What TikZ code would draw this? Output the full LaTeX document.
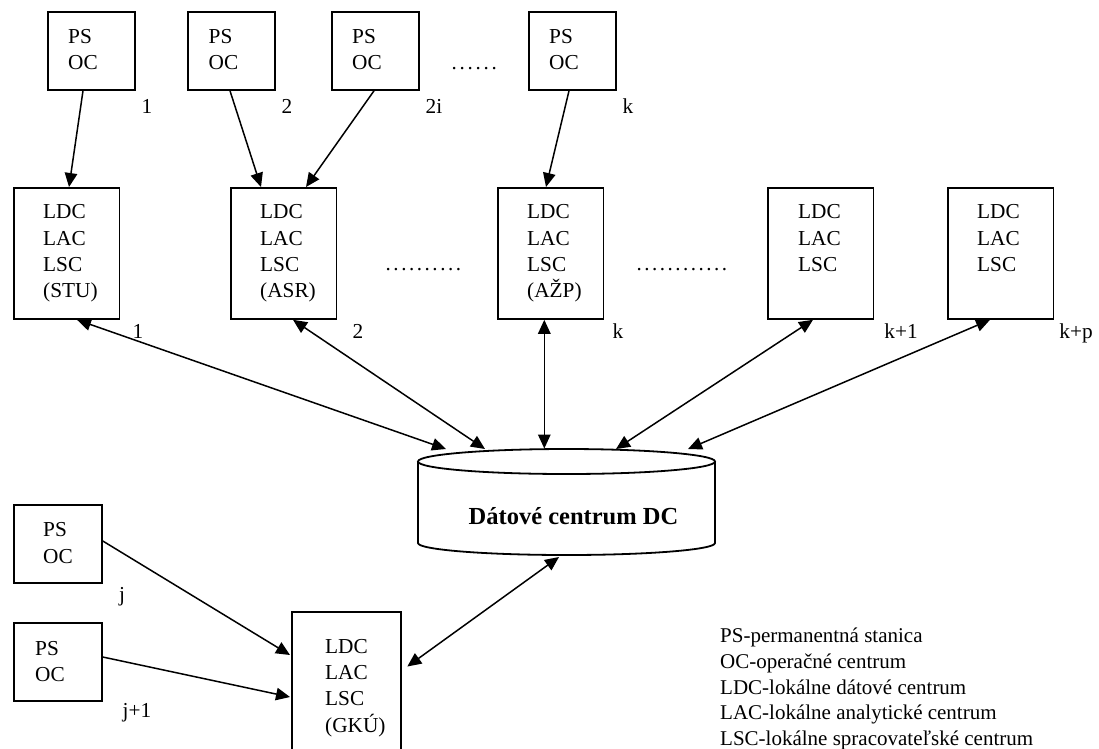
\documentclass[tikz,border=0pt]{standalone}
\usepackage{fontspec}
\setmainfont{Liberation Serif}
\usetikzlibrary{arrows.meta,calc}
\newcommand\dotrow[2]{\foreach\i in {1,...,#1}{.\kern#2pt}}
\begin{document}
\begin{tikzpicture}[x=1pt,y=-1pt,
  box/.style={draw, line width=1.8pt, inner sep=0pt, anchor=north west},
  psbox/.style={box, minimum width=87pt, minimum height=78pt},
  ldcbox/.style={box, minimum width=105.5pt, minimum height=131pt},
  txt/.style={inner sep=0pt, anchor=north west, align=left, font=\fontsize{21.3}{26.3}\selectfont},
  lbl/.style={inner sep=0pt, anchor=base, font=\fontsize{21.3}{26.3}\selectfont},
  dotsnode/.style={inner sep=0pt, anchor=base west, font=\fontsize{21}{26.3}\selectfont},
  arr/.style={line width=1.5pt, -{Triangle[length=14pt,width=12.5pt]}},
  barr/.style={line width=1.5pt, {Triangle[length=14pt,width=12.5pt]}-{Triangle[length=14pt,width=12.5pt]}},
]
\useasboundingbox (0,0) rectangle (1099,748);
\clip (0,0) rectangle (1099,748);

% top PS boxes
\node[psbox] (ps1) at (47,11) {};
\node[psbox] (ps2) at (187,11) {};
\node[psbox] (ps3) at (331,11) {};
\node[psbox] (psk) at (528,11) {};
\node[txt] (ps1t) at (68,28.8) {PS\\OC};
\node[txt] (ps2t) at (208.5,28.8) {PS\\OC};
\node[txt] (ps3t) at (352,28.8) {PS\\OC};
\node[txt] (pskt) at (549,28.8) {PS\\OC};
\node[dotsnode] (dtop) at (451.5,69) {\dotrow{6}{2.75}};
\node[lbl] (l1) at (147,113) {1};
\node[lbl] (l2) at (287,113) {2};
\node[lbl] (l2i) at (434,113) {2i};
\node[lbl] (lk) at (628,113) {k};

% LDC boxes
\node[ldcbox] (ldc1) at (13,187) {};
\node[ldcbox] (ldc2) at (230,187) {};
\node[ldcbox] (ldck) at (497,187) {};
\node[ldcbox] (ldck1) at (767,187) {};
\node[ldcbox] (ldckp) at (947,187) {};
\node[txt] (ldc1t) at (43,204.5) {LDC\\LAC\\LSC\\(STU)};
\node[txt] (ldc2t) at (260,204.5) {LDC\\LAC\\LSC\\(ASR)};
\node[txt] (ldckt) at (527,204.5) {LDC\\LAC\\LSC\\(AŽP)};
\node[txt] (ldck1t) at (798,204.5) {LDC\\LAC\\LSC};
\node[txt] (ldckpt) at (977,204.5) {LDC\\LAC\\LSC};
\node[dotsnode] (dmid1) at (385.5,270.5) {\dotrow{10}{2.55}};
\node[dotsnode] (dmid2) at (636.5,270.5) {\dotrow{12}{2.5}};
\node[lbl] (m1) at (138,338) {1};
\node[lbl] (m2) at (358,338) {2};
\node[lbl] (mk) at (618,338) {k};
\node[lbl] (mk1) at (901,338) {k+1};
\node[lbl] (mkp) at (1076,338) {k+p};

% cylinder
\draw[line width=1.8pt] (566.5,461.5) ellipse [x radius=148.5pt, y radius=12.5pt];
\draw[line width=1.8pt] (418,461.5) -- (418,543) arc[start angle=180, end angle=360, x radius=148.5pt, y radius=12pt] -- (715,461.5);
\node[inner sep=0pt, anchor=base, font=\fontsize{24.5}{29}\selectfont\bfseries] (dc) at (573.5,524) {Dátové centrum DC};
\coordinate (c1) at (446,449);
\coordinate (c2) at (485,449);
\coordinate (ck) at (544.3,448.5);
\coordinate (ck1) at (616,449);
\coordinate (ckp) at (688,449);
\coordinate (cb) at (559,557);

% lower left
\node[box, minimum width=88pt, minimum height=78pt] (psj) at (13,504) {};
\node[box, minimum width=88pt, minimum height=78pt] (psj1) at (13,622) {};
\node[txt] (psjt) at (43,522.5) {PS\\OC};
\node[txt] (psj1t) at (35,640.8) {PS\\OC};
\node[lbl] (lj) at (122,601) {j};
\node[lbl] (lj1) at (137,717) {j+1};
\node[box, minimum width=109pt, minimum height=160pt] (gku) at (291,611) {};
\node[txt] (gkut) at (325,638.8) {LDC\\LAC\\LSC\\(GKÚ)};

% legend
\node[txt, font=\fontsize{21}{25.75}\selectfont] (leg) at (720,627.8) {PS-permanentná stanica\\OC-operačné centrum\\LDC-lokálne dátové centrum\\LAC-lokálne analytické centrum\\LSC-lokálne spracovateľské centrum};

% connectors top
\draw[arr] ($(ps1.south west)+(36,0)$) -- ($(ldc1.north west)+(56,0)$);
\draw[arr] ($(ps2.south west)+(43,0)$) -- ($(ldc2.north west)+(31,0)$);
\draw[arr] ($(ps3.south west)+(43,0)$) -- ($(ldc2.north west)+(76,0)$);
\draw[arr] ($(psk.south west)+(41,0)$) -- ($(ldck.north west)+(49,0)$);

% connectors to DC
\draw[barr] ($(ldc1.south west)+(64,0)$) -- (c1);
\draw[barr] ($(ldc2.south west)+(63,0)$) -- (c2);
\draw[barr] ($(ldck.south west)+(47.3,0)$) -- (ck);
\draw[barr] ($(ldck1.south west)+(46,0)$) -- (ck1);
\draw[barr] ($(ldckp.south west)+(43,0)$) -- (ckp);
\draw[barr] ($(gku.north east)+(5.5,55.5)$) -- (cb);

% lower connectors
\draw[arr] ($(psj.north east)+(0,37)$) -- ($(gku.north west)+(-1,44)$);
\draw[arr] ($(psj1.north east)+(0,35)$) -- ($(gku.north west)+(-1,86)$);
\end{tikzpicture}
\end{document}
